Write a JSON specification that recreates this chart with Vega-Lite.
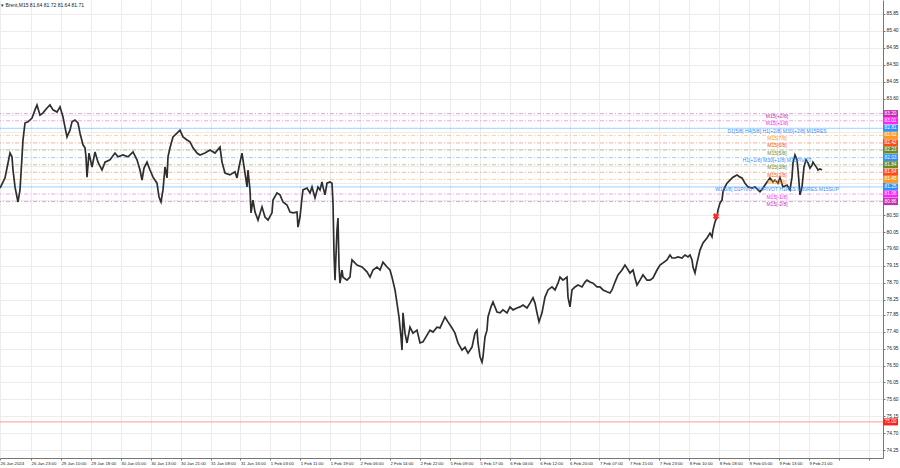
{
  "$schema": "https://vega.github.io/schema/vega-lite/v6.json",
  "width": 883,
  "height": 458,
  "autosize": {"type": "none"},
  "padding": {"left": 0, "top": 0, "right": 17, "bottom": 10},
  "background": "white",
  "config": {
    "view": {"stroke": null},
    "font": "Liberation Sans"
  },
  "datasets": {
    "price": [
      {"n":0,"c":81.22},{"n":5,"c":81.49},{"n":10,"c":82.15},{"n":12,"c":82.05},{"n":13,"c":81.70},{"n":15,"c":81.25},{"n":17,"c":80.98},{"n":18,"c":80.85},{"n":20,"c":81.17},{"n":22,"c":82.05},{"n":23,"c":82.50},{"n":25,"c":82.95},{"n":28,"c":82.98},{"n":32,"c":83.08},{"n":35,"c":83.30},{"n":37,"c":83.43},{"n":40,"c":83.16},{"n":43,"c":83.22},{"n":47,"c":83.35},{"n":50,"c":83.43},{"n":53,"c":83.30},{"n":57,"c":83.24},{"n":60,"c":83.38},{"n":63,"c":83.11},{"n":65,"c":82.84},{"n":67,"c":82.58},{"n":70,"c":82.76},{"n":72,"c":82.98},{"n":75,"c":83.03},{"n":78,"c":82.95},{"n":80,"c":82.68},{"n":83,"c":82.37},{"n":85,"c":82.29},{"n":86,"c":82.05},{"n":87,"c":81.51},{"n":89,"c":82.15},{"n":92,"c":81.78},{"n":95,"c":82.18},{"n":98,"c":81.91},{"n":102,"c":81.70},{"n":105,"c":81.91},{"n":110,"c":81.97},{"n":115,"c":82.15},{"n":118,"c":82.05},{"n":123,"c":82.10},{"n":128,"c":82.05},{"n":133,"c":82.18},{"n":137,"c":81.97},{"n":140,"c":81.70},{"n":142,"c":81.43},{"n":144,"c":81.75},{"n":147,"c":81.91},{"n":150,"c":81.70},{"n":153,"c":81.51},{"n":157,"c":81.35},{"n":159,"c":80.98},{"n":161,"c":80.85},{"n":163,"c":81.17},{"n":165,"c":81.78},{"n":167,"c":81.49},{"n":168,"c":82.05},{"n":170,"c":82.29},{"n":173,"c":82.58},{"n":177,"c":82.68},{"n":180,"c":82.76},{"n":183,"c":82.58},{"n":187,"c":82.50},{"n":190,"c":82.45},{"n":193,"c":82.29},{"n":197,"c":82.15},{"n":200,"c":82.10},{"n":205,"c":82.15},{"n":210,"c":82.23},{"n":215,"c":82.15},{"n":220,"c":82.31},{"n":222,"c":81.91},{"n":225,"c":81.62},{"n":230,"c":81.57},{"n":235,"c":81.65},{"n":237,"c":81.49},{"n":239,"c":81.78},{"n":242,"c":82.15},{"n":243,"c":81.97},{"n":245,"c":81.62},{"n":247,"c":81.25},{"n":248,"c":81.70},{"n":250,"c":81.17},{"n":251,"c":80.56},{"n":253,"c":80.90},{"n":255,"c":80.58},{"n":258,"c":80.37},{"n":262,"c":80.72},{"n":265,"c":80.45},{"n":268,"c":80.37},{"n":272,"c":80.56},{"n":273,"c":80.90},{"n":277,"c":81.09},{"n":280,"c":81.04},{"n":283,"c":80.85},{"n":287,"c":80.77},{"n":290,"c":80.58},{"n":293,"c":80.56},{"n":297,"c":80.58},{"n":298,"c":80.18},{"n":300,"c":80.45},{"n":302,"c":80.96},{"n":303,"c":81.17},{"n":307,"c":81.22},{"n":310,"c":81.09},{"n":312,"c":81.25},{"n":315,"c":80.96},{"n":318,"c":81.25},{"n":320,"c":81.17},{"n":322,"c":81.38},{"n":323,"c":81.25},{"n":325,"c":81.04},{"n":327,"c":81.35},{"n":330,"c":81.38},{"n":332,"c":81.35},{"n":333,"c":80.82},{"n":334,"c":79.49},{"n":335,"c":78.77},{"n":337,"c":80.10},{"n":338,"c":80.42},{"n":339,"c":79.17},{"n":340,"c":78.69},{"n":342,"c":79.04},{"n":343,"c":78.85},{"n":347,"c":78.77},{"n":350,"c":78.85},{"n":351,"c":79.12},{"n":352,"c":79.31},{"n":357,"c":79.17},{"n":362,"c":79.12},{"n":367,"c":78.99},{"n":370,"c":78.85},{"n":373,"c":79.04},{"n":377,"c":79.12},{"n":380,"c":79.04},{"n":383,"c":79.25},{"n":387,"c":79.12},{"n":390,"c":79.04},{"n":392,"c":78.85},{"n":395,"c":78.51},{"n":397,"c":78.16},{"n":399,"c":77.79},{"n":401,"c":77.26},{"n":402,"c":76.91},{"n":403,"c":77.90},{"n":405,"c":77.36},{"n":407,"c":77.10},{"n":410,"c":77.52},{"n":413,"c":77.36},{"n":417,"c":77.44},{"n":420,"c":77.10},{"n":423,"c":77.13},{"n":427,"c":77.31},{"n":430,"c":77.44},{"n":433,"c":77.39},{"n":437,"c":77.52},{"n":440,"c":77.50},{"n":445,"c":77.79},{"n":448,"c":77.66},{"n":452,"c":77.50},{"n":455,"c":77.36},{"n":458,"c":77.10},{"n":462,"c":76.91},{"n":465,"c":76.99},{"n":468,"c":76.83},{"n":472,"c":76.99},{"n":475,"c":77.36},{"n":477,"c":77.44},{"n":478,"c":77.10},{"n":480,"c":76.73},{"n":482,"c":76.59},{"n":483,"c":76.73},{"n":485,"c":77.26},{"n":487,"c":77.44},{"n":488,"c":77.79},{"n":491,"c":78.06},{"n":493,"c":78.19},{"n":497,"c":77.92},{"n":500,"c":77.90},{"n":503,"c":77.98},{"n":507,"c":77.90},{"n":510,"c":78.06},{"n":513,"c":77.98},{"n":517,"c":78.03},{"n":520,"c":78.06},{"n":523,"c":78.11},{"n":527,"c":78.03},{"n":530,"c":78.16},{"n":533,"c":78.30},{"n":535,"c":78.16},{"n":537,"c":77.90},{"n":539,"c":77.66},{"n":542,"c":77.90},{"n":545,"c":78.32},{"n":548,"c":78.51},{"n":552,"c":78.59},{"n":555,"c":78.51},{"n":558,"c":78.69},{"n":560,"c":78.85},{"n":563,"c":78.77},{"n":567,"c":78.85},{"n":568,"c":78.32},{"n":570,"c":78.06},{"n":572,"c":78.51},{"n":575,"c":78.59},{"n":578,"c":78.64},{"n":582,"c":78.59},{"n":585,"c":78.72},{"n":587,"c":78.77},{"n":590,"c":78.72},{"n":593,"c":78.69},{"n":597,"c":78.59},{"n":600,"c":78.59},{"n":603,"c":78.51},{"n":607,"c":78.46},{"n":610,"c":78.43},{"n":612,"c":78.51},{"n":615,"c":78.72},{"n":618,"c":78.91},{"n":622,"c":79.04},{"n":625,"c":79.17},{"n":627,"c":79.09},{"n":630,"c":78.96},{"n":633,"c":79.04},{"n":635,"c":78.83},{"n":637,"c":78.64},{"n":640,"c":78.77},{"n":643,"c":78.91},{"n":647,"c":78.77},{"n":650,"c":78.77},{"n":653,"c":78.83},{"n":657,"c":79.04},{"n":660,"c":79.17},{"n":663,"c":79.23},{"n":667,"c":79.31},{"n":670,"c":79.44},{"n":672,"c":79.36},{"n":675,"c":79.36},{"n":678,"c":79.39},{"n":682,"c":79.36},{"n":685,"c":79.44},{"n":688,"c":79.39},{"n":690,"c":79.44},{"n":692,"c":79.31},{"n":693,"c":79.12},{"n":695,"c":78.96},{"n":697,"c":79.23},{"n":700,"c":79.57},{"n":703,"c":79.76},{"n":707,"c":79.89},{"n":710,"c":80.02},{"n":712,"c":79.92},{"n":713,"c":80.10},{"n":715,"c":80.32},{"n":717,"c":80.45},{"n":718,"c":80.64},{"n":720,"c":80.82},{"n":722,"c":80.90},{"n":723,"c":81.12},{"n":725,"c":81.25},{"n":727,"c":81.35},{"n":730,"c":81.43},{"n":733,"c":81.51},{"n":737,"c":81.57},{"n":740,"c":81.51},{"n":742,"c":81.49},{"n":745,"c":81.35},{"n":748,"c":81.25},{"n":752,"c":81.22},{"n":755,"c":81.25},{"n":758,"c":81.17},{"n":760,"c":81.12},{"n":763,"c":81.22},{"n":767,"c":81.38},{"n":770,"c":81.49},{"n":773,"c":81.38},{"n":775,"c":81.43},{"n":778,"c":81.35},{"n":780,"c":81.49},{"n":783,"c":81.25},{"n":787,"c":81.30},{"n":790,"c":81.17},{"n":792,"c":81.51},{"n":793,"c":81.89},{"n":795,"c":82.10},{"n":797,"c":81.97},{"n":798,"c":81.70},{"n":800,"c":81.04},{"n":802,"c":81.25},{"n":803,"c":81.51},{"n":804,"c":81.78},{"n":806,"c":81.97},{"n":808,"c":81.89},{"n":810,"c":81.75},{"n":812,"c":81.83},{"n":813,"c":81.91},{"n":815,"c":81.83},{"n":817,"c":81.75},{"n":818,"c":81.70},{"n":820,"c":81.73},{"n":822,"c":81.70}
    ],
    "levels": [
      {"p":83.20,"name":"M15[+2/8]","hue":"violet","kind":"dash"},
      {"p":83.01,"name":"M15[+1/8]","hue":"magenta","kind":"dash"},
      {"p":82.81,"name":"D1[5/8] H4[5/8] H1[+2/8] M30[+2/8] M15RES","hue":"blue","kind":"solid"},
      {"p":82.62,"name":"M15[7/8]","hue":"orange","kind":"dash"},
      {"p":82.42,"name":"M15[6/8]","hue":"orangered","kind":"dash"},
      {"p":82.23,"name":"M15[5/8]","hue":"olive","kind":"dash"},
      {"p":82.03,"name":"H1[+1/8] M30[+1/8] M15PIVOT","hue":"blue","kind":"dash"},
      {"p":81.84,"name":"M15[3/8]","hue":"olive","kind":"dash"},
      {"p":81.64,"name":"M15[2/8]","hue":"orangered","kind":"dash"},
      {"p":81.45,"name":"M15[1/8]","hue":"orange","kind":"dash"},
      {"p":81.25,"name":"W1[5/8] D1PIVOT H4PIVOT H1RES M30RES M15SUP","hue":"blue","kind":"solid"},
      {"p":81.06,"name":"M15[-1/8]","hue":"magenta","kind":"dash"},
      {"p":80.86,"name":"M15[-2/8]","hue":"violet","kind":"dash"},
      {"p":75.00,"name":"","hue":"red","kind":"solid"}
    ],
    "trade": [{"n":716,"c":80.47}],
    "head": [{"n":1,"c":86.08,"t":"▾ Brent,M15  81.64 81.72 81.64 81.71"}]
  },
  "layer": [
    {
      "data": {"name": "levels"},
      "mark": {"type": "rule", "strokeWidth": 1, "strokeOpacity": 0.45},
      "encoding": {
        "y": {"field": "p", "type": "quantitative"},
        "color": {"field": "hue", "type": "nominal", "legend": null,
          "scale": {"domain": ["violet","magenta","blue","orange","orangered","olive","red"],
                    "range": ["#c42fb0","#ff22ff","#2f8fff","#ff9a1f","#ff4d1a","#6a8a2a","#ff2020"]}},
        "strokeDash": {"field": "kind", "type": "nominal", "legend": null,
          "scale": {"domain": ["dash","solid"], "range": [[4,2,1,2],[1,0]]}}
      }
    },
    {
      "data": {"name": "price"},
      "mark": {"type": "line", "color": "#2e2e2e", "strokeWidth": 1.7, "strokeJoin": "miter"},
      "encoding": {
        "x": {"field": "n", "type": "quantitative",
          "scale": {"domain": [0, 883], "nice": false, "zero": false},
          "axis": {"title": null, "orient": "bottom", "tickCount": 200,
            "values": [0,31,60.92,90.84,120.76,150.68,180.6,210.52,240.44,270.36,300.28,330.2,360.12,390.04,419.96,449.88,479.8,509.72,539.64,569.56,599.48,629.4,659.32,689.24,719.16,749.08,779,808.92,838.84,868.76],
            "labelExpr": "datum.value < 1 ? '26 Jan 2024' : datum.value > 820 ? '' : ['26 Jan 23:00','29 Jan 10:00','29 Jan 18:00','30 Jan 05:00','30 Jan 13:00','30 Jan 21:00','31 Jan 08:00','31 Jan 16:00','1 Feb 03:00','1 Feb 11:00','1 Feb 19:00','2 Feb 06:00','2 Feb 14:00','2 Feb 22:00','5 Feb 09:00','5 Feb 17:00','6 Feb 04:00','6 Feb 12:00','6 Feb 20:00','7 Feb 07:00','7 Feb 15:00','7 Feb 23:00','8 Feb 10:00','8 Feb 18:00','9 Feb 05:00','9 Feb 13:00','9 Feb 21:00'][round((datum.value - 31) / 29.92)]",
            "labelAlign": "left", "labelBaseline": "top", "labelPadding": 1.5, "labelFontSize": 4.3, "labelColor": "#222",
            "labelOverlap": false, "labelFlush": false, "labelBound": false,
            "tickSize": 2, "tickColor": "#777", "domainColor": "#777",
            "grid": true, "gridColor": "#ececec", "gridWidth": 1}},
        "y": {"field": "c", "type": "quantitative",
          "scale": {"domain": [74.04, 86.222], "nice": false, "zero": false},
          "axis": {"title": null, "orient": "right", "tickCount": 200,
            "values": [85.85,85.40,84.95,84.50,84.05,83.60,83.15,82.70,82.25,81.80,81.35,80.90,80.50,80.05,79.60,79.15,78.70,78.25,77.85,77.40,76.95,76.50,76.05,75.60,75.15,74.70,74.25],
            "labelExpr": "datum.value > 80.6 && datum.value < 83.5 ? '' : format(datum.value, '.2f')",
            "labelAlign": "left", "labelPadding": 1, "labelFontSize": 4.8, "labelColor": "#222",
            "labelOverlap": false, "labelFlush": false, "labelBound": false,
            "tickSize": 2, "tickColor": "#777", "domainColor": "#777",
            "grid": true, "gridColor": "#ececec", "gridWidth": 1}}
      }
    },
    {
      "data": {"name": "levels"},
      "mark": {"type": "text", "align": "center", "baseline": "top", "dy": 0.5, "fontSize": 5},
      "encoding": {
        "x": {"datum": 777},
        "y": {"field": "p", "type": "quantitative"},
        "text": {"field": "name"},
        "color": {"field": "hue", "type": "nominal", "legend": null}
      }
    },
    {
      "data": {"name": "levels"},
      "mark": {"type": "point", "filled": true, "opacity": 1, "size": 225, "shape": "M-1,-0.47H1V0.47H-1Z"},
      "encoding": {
        "x": {"datum": 890.5},
        "y": {"field": "p", "type": "quantitative"},
        "color": {"field": "hue", "type": "nominal", "legend": null}
      }
    },
    {
      "data": {"name": "levels"},
      "mark": {"type": "text", "align": "center", "baseline": "middle", "fontSize": 4.8, "color": "white"},
      "encoding": {
        "x": {"datum": 890.5},
        "y": {"field": "p", "type": "quantitative"},
        "text": {"field": "p", "type": "quantitative", "format": ".2f"}
      }
    },
    {
      "data": {"name": "trade"},
      "mark": {"type": "point", "shape": "cross", "angle": 45, "filled": true, "size": 40, "color": "#ff2a2a", "opacity": 1},
      "encoding": {
        "x": {"field": "n", "type": "quantitative"},
        "y": {"field": "c", "type": "quantitative"}
      }
    },
    {
      "data": {"name": "head"},
      "mark": {"type": "text", "align": "left", "baseline": "middle", "fontSize": 5, "color": "#222"},
      "encoding": {
        "x": {"field": "n", "type": "quantitative"},
        "y": {"field": "c", "type": "quantitative"},
        "text": {"field": "t"}
      }
    }
  ]
}
